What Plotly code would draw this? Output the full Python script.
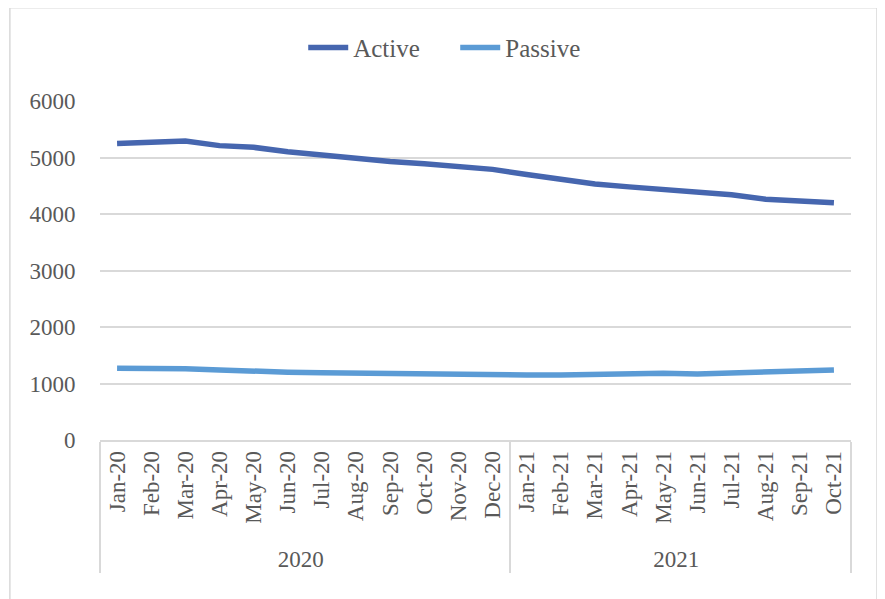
import plotly.graph_objects as go

months = ["Jan-20", "Feb-20", "Mar-20", "Apr-20", "May-20", "Jun-20", "Jul-20", "Aug-20",
          "Sep-20", "Oct-20", "Nov-20", "Dec-20", "Jan-21", "Feb-21", "Mar-21", "Apr-21",
          "May-21", "Jun-21", "Jul-21", "Aug-21", "Sep-21", "Oct-21"]
years = ["2020"] * 12 + ["2021"] * 10

active = [5250, 5260, 5290, 5210, 5180, 5100, 5040, 4990, 4930, 4890, 4830, 4790,
          4700, 4620, 4530, 4480, 4440, 4390, 4340, 4260, 4230, 4200]
passive = [1270, 1270, 1260, 1240, 1210, 1200, 1190, 1180, 1170, 1160, 1170, 1150,
           1150, 1150, 1160, 1180, 1180, 1170, 1190, 1210, 1230, 1240]

font_family = "Liberation Serif, serif"
grey = "#595959"

fig = go.Figure()
fig.add_trace(go.Scatter(x=[years, months], y=active, mode="lines", name="Active",
                         line=dict(color="#4666AF", width=5.5)))
fig.add_trace(go.Scatter(x=[years, months], y=passive, mode="lines", name="Passive",
                         line=dict(color="#5B9BD5", width=5.5)))

# page body adds an 8px offset, so margins are shifted to keep the plot area in place
fig.update_layout(
    width=885, height=599,
    paper_bgcolor="white", plot_bgcolor="white",
    margin=dict(l=92, r=42, t=93, b=167, autoexpand=False),
    font=dict(family=font_family, size=23, color=grey),
    legend=dict(orientation="h", x=0.473, xanchor="center", y=1.157, yanchor="middle",
                font=dict(size=25, color=grey), itemwidth=40,
                entrywidth=97, entrywidthmode="pixels"),
    xaxis=dict(type="multicategory", range=[-0.5, 21.5], tickangle=-90, automargin=False,
               showgrid=False, showline=True, linecolor="#d9d9d9", linewidth=1.5,
               ticks="", showdividers=True, dividercolor="#d9d9d9",
               dividerwidth=1.5, tickfont=dict(size=23, color=grey)),
    yaxis=dict(range=[0, 6000], dtick=1000, showgrid=True, gridcolor="#d9d9d9", gridwidth=1.5,
               zeroline=False, ticks="outside", ticklen=19, tickcolor="rgba(0,0,0,0)",
               automargin=False, tickfont=dict(size=23, color=grey)),
    shapes=[dict(type="rect", xref="paper", yref="paper", x0=-0.12, x1=1.0346,
                 y0=-0.5, y1=1.275, line=dict(color="#d9d9d9", width=1.5))],
)

fig.write_html("out.html")
